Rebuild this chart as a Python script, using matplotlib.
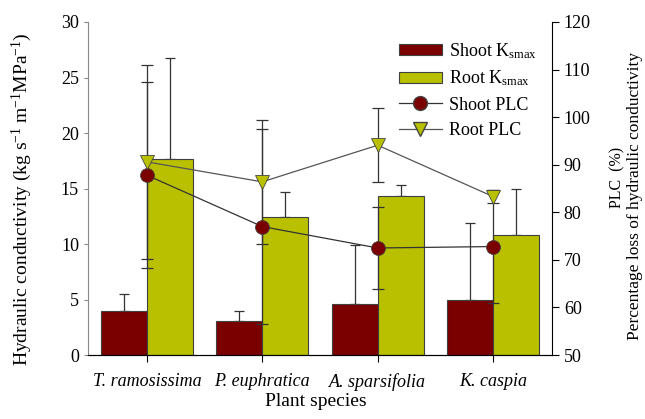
import matplotlib
matplotlib.use("Agg")
import matplotlib.pyplot as plt
import numpy as np
from matplotlib.lines import Line2D
from matplotlib.patches import Patch

species = ["T. ramosissima", "P. euphratica", "A. sparsifolia", "K. caspia"]
shoot_k = [4.0, 3.1, 4.6, 5.0]
shoot_k_err = [1.5, 0.9, 5.3, 6.9]
root_k = [17.7, 12.4, 14.3, 10.8]
root_k_err = [9.1, 2.3, 1.0, 4.2]
shoot_plc = [87.8, 77.0, 72.5, 72.8]
shoot_plc_err = [19.6, 20.5, 8.7, 11.8]
root_plc = [90.6, 86.4, 94.1, 83.3]
root_plc_err = [20.4, 13.0, 7.8, 1.4]

plt.rcParams['font.family'] = ['Liberation Serif', 'DejaVu Serif']
plt.rcParams['mathtext.fontset'] = 'custom'
plt.rcParams['mathtext.rm'] = 'Liberation Serif'
plt.rcParams['mathtext.it'] = 'Liberation Serif:italic'

shoot_col = '#7a0000'
root_col = '#b8c000'

fig = plt.figure(figsize=(6.45, 4.19), dpi=100)
ax = fig.add_axes([0.1364, 0.1527, 0.7194, 0.7948])
x = np.arange(len(species))
w = 0.4
ax.bar(x - w/2, shoot_k, w, color=shoot_col, edgecolor='#404040', linewidth=0.8, zorder=2)
ax.bar(x + w/2, root_k, w, color=root_col, edgecolor='#404040', linewidth=0.8, zorder=2)
ax.errorbar(x - w/2, shoot_k, yerr=[np.zeros(4), shoot_k_err], fmt='none', ecolor='#333333',
            elinewidth=0.9, capsize=3.6, capthick=0.9, zorder=1)
ax.errorbar(x + w/2, root_k, yerr=[np.zeros(4), root_k_err], fmt='none', ecolor='#333333',
            elinewidth=0.9, capsize=3.6, capthick=0.9, zorder=1)
ax.set_ylim(0, 30)
ax.set_xlim(-0.51, 3.51)
ax.set_yticks([0, 5, 10, 15, 20, 25, 30])
ax.set_xticks(x)
ax.set_xticklabels(species, style='italic', fontsize=13)
ax.tick_params(axis='y', labelsize=13, direction='out', length=3, color='#888888')
ax.tick_params(axis='x', direction='out', length=5, pad=8)
ax.spines['top'].set_visible(False)
ax.spines['left'].set_color('#888888')
ax.spines['right'].set_visible(False)
fig.text(22/645, 1 - 199/419, 'Hydraulic conductivity (kg s$^{-1}$ m$^{-1}$MPa$^{-1}$)',
         fontsize=14, rotation=90, ha='center', va='center')
fig.text(316/645, 1 - 401/419, 'Plant species', fontsize=14, ha='center', va='center')

ax2 = ax.twinx()
ax2.errorbar(x, root_plc, yerr=root_plc_err, fmt='none', ecolor='#333333', elinewidth=0.9,
             capsize=4.3, capthick=0.9, zorder=2)
ax2.errorbar(x, shoot_plc, yerr=shoot_plc_err, fmt='none', ecolor='#333333', elinewidth=0.9,
             capsize=4.3, capthick=0.9, zorder=2)
ax2.plot(x, shoot_plc, '-', color='#333333', lw=0.9, marker='o', markersize=10,
         markerfacecolor=shoot_col, markeredgecolor='#444444', markeredgewidth=0.6, zorder=3)
ax2.plot(x, root_plc, '-', color='#555555', lw=0.9, marker='v', markersize=10,
         markerfacecolor=root_col, markeredgecolor='#444444', markeredgewidth=0.6, zorder=3)
ax2.set_ylim(50, 120)
ax2.set_yticks([50, 60, 70, 80, 90, 100, 110, 120])
ax2.tick_params(axis='y', labelsize=13, direction='out', length=5)
ax2.spines['top'].set_visible(False)
ax2.spines['left'].set_visible(False)
fig.text(617/645, 1 - 177/419, 'PLC  (%)', fontsize=11.5, rotation=90,
         ha='center', va='center')
fig.text(635/645, 1 - 196/419, 'Percentage loss of hydraulic conductivity', fontsize=12.5,
         rotation=90, ha='center', va='center')

handles = [
    Patch(facecolor=shoot_col, edgecolor='#404040', linewidth=0.8),
    Patch(facecolor=root_col, edgecolor='#404040', linewidth=0.8),
    Line2D([], [], color='#333333', lw=0.9, marker='o', markersize=10,
           markerfacecolor=shoot_col, markeredgecolor='#444444'),
    Line2D([], [], color='#555555', lw=0.9, marker='v', markersize=10,
           markerfacecolor=root_col, markeredgecolor='#444444'),
]
labels = ['Shoot K$_{\\mathrm{smax}}$', 'Root K$_{\\mathrm{smax}}$', 'Shoot PLC', 'Root PLC']
leg = ax2.legend(handles, labels, loc='upper left', bbox_to_anchor=(0.654, 0.965),
                 frameon=False, fontsize=13, handlelength=2.4, handleheight=0.6,
                 labelspacing=0.45, handletextpad=0.4, borderaxespad=0)
fig.savefig('out.png', dpi=100)
